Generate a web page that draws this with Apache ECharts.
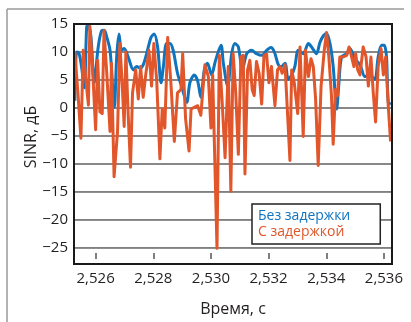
<!DOCTYPE html>
<html><head><meta charset="utf-8">
<script src="https://cdn.jsdelivr.net/npm/echarts@6/dist/echarts.min.js"></script>
<style>html,body{margin:0;padding:0;background:#fff}#c{width:411px;height:322px}</style>
</head><body><div id="c"></div>
<script>
const seriesNames = ['Без задержки', 'С задержкой'];
const xTitle = 'Время, с';
const yTitle = 'SINR, дБ';
const xTicks = [2.526, 2.528, 2.530, 2.532, 2.534, 2.536];
const yTicks = [-25, -20, -15, -10, -5, 0, 5, 10, 15];

const timeNoDelay = [2.52528,2.52534,2.52542,2.52551,2.52561,2.52569,2.52575,2.52584,2.52595,2.52609,2.52621,2.52630,2.52639,2.52650,2.52658,2.52665,2.52673,2.52681,2.52690,2.52699,2.52713,2.52731,2.52742,2.52754,2.52765,2.52777,2.52792,2.52803,2.52815,2.52827,2.52835,2.52846,2.52858,2.52869,2.52884,2.52898,2.52916,2.52927,2.52942,2.52954,2.52965,2.52977,2.52988,2.53002,2.53016,2.53035,2.53043,2.53058,2.53072,2.53083,2.53095,2.53109,2.53124,2.53141,2.53158,2.53176,2.53193,2.53208,2.53220,2.53234,2.53245,2.53257,2.53268,2.53280,2.53291,2.53303,2.53320,2.53338,2.53349,2.53366,2.53378,2.53390,2.53401,2.53413,2.53424,2.53436,2.53444,2.53453,2.53471,2.53482,2.53499,2.53517,2.53534,2.53546,2.53557,2.53569,2.53580,2.53592,2.53601,2.53609,2.53615,2.53624];
const sinrNoDelay = [1.3,10.0,9.8,7.4,3.6,14.5,14.8,12.6,4.5,10.9,13.8,13.9,12.6,10.3,4.5,0.1,9.1,13.2,10.3,10.6,9.1,6.8,7.4,7.1,7.7,9.7,12.6,13.2,10.9,4.5,7.4,11.5,11.5,10.3,6.2,3.9,1.0,4.5,5.9,4.8,1.9,6.8,8.0,5.9,8.5,11.2,8.0,3.9,9.7,11.5,10.9,6.8,9.7,10.3,9.7,9.4,10.3,10.8,10.0,7.7,7.4,8.0,5.1,5.9,7.4,10.3,9.7,11.5,10.9,9.7,11.7,12.9,13.3,11.5,7.4,-0.2,4.5,9.1,9.7,10.6,8.8,7.7,5.6,5.9,5.6,5.1,9.1,11.2,11.2,9.1,1.0,0.7];

const timeDelay = [2.52528,2.52540,2.52549,2.52557,2.52565,2.52575,2.52580,2.52588,2.52600,2.52607,2.52615,2.52623,2.52629,2.52638,2.52650,2.52655,2.52664,2.52676,2.52684,2.52692,2.52699,2.52705,2.52713,2.52721,2.52728,2.52739,2.52748,2.52756,2.52765,2.52773,2.52785,2.52794,2.52802,2.52812,2.52823,2.52831,2.52840,2.52850,2.52861,2.52873,2.52884,2.52896,2.52902,2.52912,2.52924,2.52931,2.52942,2.52954,2.52965,2.52979,2.52991,2.53000,2.53006,2.53021,2.53029,2.53039,2.53049,2.53060,2.53069,2.53077,2.53086,2.53095,2.53104,2.53112,2.53118,2.53127,2.53135,2.53143,2.53150,2.53158,2.53167,2.53176,2.53184,2.53193,2.53201,2.53210,2.53222,2.53231,2.53239,2.53247,2.53257,2.53274,2.53280,2.53289,2.53301,2.53309,2.53320,2.53328,2.53338,2.53347,2.53355,2.53363,2.53372,2.53382,2.53393,2.53401,2.53409,2.53418,2.53424,2.53432,2.53439,2.53447,2.53457,2.53471,2.53479,2.53488,2.53496,2.53502,2.53509,2.53517,2.53528,2.53538,2.53546,2.53555,2.53563,2.53571,2.53580,2.53590,2.53598,2.53606,2.53615,2.53623];
const sinrDelay = [10.0,1.6,-5.4,10.3,5.6,0.5,14.6,8.5,-3.9,8.5,-0.7,-1.0,13.8,6.8,-4.2,8.0,-12.3,-4.2,11.5,4.5,-3.3,10.0,-1.3,-10.6,2.7,6.8,1.6,7.4,1.9,5.6,10.3,3.9,11.5,4.8,-9.1,-0.2,-3.6,12.6,4.5,-6.0,2.7,3.3,9.7,-1.9,-7.7,-0.2,0.1,0.4,-1.3,7.7,5.6,-3.6,5.9,-25.1,9.4,1.0,-8.9,7.4,-14.9,9.7,2.7,-8.3,9.1,9.4,-11.8,6.8,8.5,3.3,2.2,8.3,6.2,0.7,9.4,9.6,4.5,7.4,0.4,6.8,7.4,6.2,7.7,-9.4,6.8,4.5,-1.0,10.9,-5.1,10.3,5.6,8.8,7.4,1.6,-10.3,3.9,10.3,13.5,9.1,2.2,-6.5,3.3,2.2,9.1,9.1,9.4,10.9,9.1,7.4,9.7,6.8,5.9,10.9,9.1,3.9,9.1,2.7,-2.5,7.4,10.6,5.9,9.1,0.4,-6.0];

const colors = ['#0f73be', '#e1562a'];
const FONT = '"Open Sans", sans-serif';
const TXT = '#231f20';
const G = {left: 74, top: 24, right: 19, bottom: 58};
const X_MIN = 2.52525, X_MAX = 2.53628;

// horizontal grid lines as a plain line series: one segment per y tick, broken by '-'
const gridData = [];
yTicks.forEach(v => { gridData.push([X_MIN, v], [X_MAX, v], ['-', '-']); });

const chart = echarts.init(document.getElementById('c'), null, {renderer: 'canvas'});
chart.setOption({
  animation: false,
  backgroundColor: '#fff',
  grid: {left: G.left, right: G.right, top: G.top, bottom: G.bottom, show: false},
  xAxis: {
    type: 'value', min: X_MIN, max: X_MAX,
    name: xTitle, nameLocation: 'middle', nameGap: 42,
    nameTextStyle: {fontFamily: FONT, fontSize: 16, color: TXT},
    axisLine: {show: false, onZero: false},
    axisTick: {show: true, inside: true, length: 6, customValues: xTicks, lineStyle: {color: '#555', width: 1.5}},
    splitLine: {show: false},
    axisLabel: {customValues: xTicks, margin: 12, fontFamily: FONT, fontSize: 15, color: TXT,
      formatter: v => v.toFixed(3).replace('.', ',')}
  },
  yAxis: {
    type: 'value', min: -27, max: 15,
    axisLine: {show: false, onZero: false},
    axisTick: {show: false, customValues: yTicks},
    splitLine: {show: true, lineStyle: {color: '#808080', width: 1.5}},
    axisLabel: {customValues: yTicks, margin: 6, fontFamily: FONT, fontSize: 15, color: TXT,
      formatter: v => String(v).replace('-', '\u2212')}
  },
  legend: {
    orient: 'vertical', left: 252, top: 204, z: 60,
    icon: 'none', itemWidth: 0, itemHeight: 14, itemGap: 2,
    padding: [5, 30, 5, 1],
    borderColor: '#222', borderWidth: 1.5, backgroundColor: '#fff',
    textStyle: {fontFamily: FONT, fontSize: 14},
    data: [
      {name: seriesNames[0], textStyle: {color: colors[0]}},
      {name: seriesNames[1], textStyle: {color: colors[1]}}
    ]
  },
  graphic: [
    {type: 'line', shape: {x1: 7, y1: 9, x2: 404, y2: 9}, style: {stroke: '#9a9a9a', lineWidth: 1.5}},
    {type: 'line', shape: {x1: 7, y1: 9, x2: 7, y2: 322}, style: {stroke: '#9a9a9a', lineWidth: 1.5}},
    {type: 'rect', z: 50, silent: true,
      shape: {x: G.left, y: G.top, width: 411 - G.left - G.right, height: 322 - G.top - G.bottom},
      style: {fill: null, stroke: '#1a1a1a', lineWidth: 2}},
    {type: 'text', x: 31, y: 137, rotation: Math.PI / 2,
      style: {text: yTitle, fontFamily: FONT, fontSize: 16, fill: TXT, align: 'center', verticalAlign: 'middle'}}
  ],
  series: [
    {name: 'gridlines', type: 'line', z: 1, silent: true, showSymbol: false, connectNulls: false,
      color: '#808080', lineStyle: {width: 1.5, color: '#808080'}, emphasis: {disabled: true},
      data: gridData},
    {name: seriesNames[0], type: 'line', z: 3, showSymbol: false, smooth: 0.3, color: colors[0],
      lineStyle: {width: 3, color: colors[0]},
      data: timeNoDelay.map((t, i) => [t, sinrNoDelay[i]])},
    {name: seriesNames[1], type: 'line', z: 4, showSymbol: false, color: colors[1],
      lineStyle: {width: 3, color: colors[1], join: 'round'},
      data: timeDelay.map((t, i) => [t, sinrDelay[i]])}
  ]
});
</script></body></html>
